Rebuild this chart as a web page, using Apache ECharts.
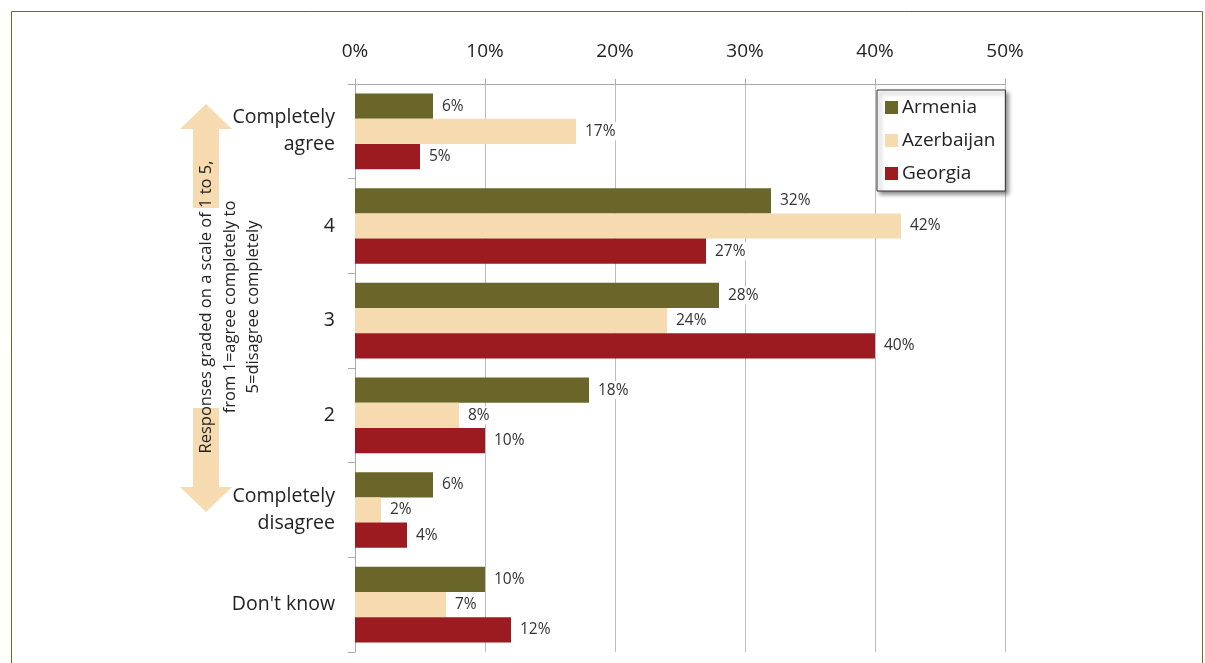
<!DOCTYPE html>
<html>
<head>
<meta charset="utf-8">
<script src="https://cdn.jsdelivr.net/npm/echarts@6/dist/echarts.min.js"></script>
<style>
html,body{margin:0;padding:0;background:#fff;}
#chart{width:1205px;height:663px;}
</style>
</head>
<body>
<div id="chart"></div>
<script>
var categories = ['Completely\nagree', '4', '3', '2', 'Completely\ndisagree', "Don't know"];
var armenia = [6, 32, 28, 18, 6, 10];
var azerbaijan = [17, 42, 24, 8, 2, 7];
var georgia = [5, 27, 40, 10, 4, 12];
var xTicks = [0, 10, 20, 30, 40, 50];
var seriesNames = ['Armenia', 'Azerbaijan', 'Georgia'];
var colors = ['#6a6629', '#f5dbaf', '#9b1b20'];
var axisTitleLines = ['Responses graded on a scale of 1 to 5,', 'from 1=agree completely to', '5=disagree completely'];

var FONT = '"Open Sans", "Noto Sans", sans-serif';
var chart = echarts.init(document.getElementById('chart'), null, {renderer: 'canvas'});

function mkSeries(name, data, idx) {
  return {
    name: name,
    type: 'bar',
    data: data,
    barGap: '0%',
    barCategoryGap: '20%',
    itemStyle: {color: colors[idx]},
    label: {
      show: true,
      position: 'right',
      distance: 6,
      formatter: '{c}%',
      color: '#333',
      fontFamily: FONT,
      fontSize: 15.5,
      backgroundColor: '#fff',
      padding: [1, 2, 1, 3]
    },
    z: 3
  };
}

var option = {
  backgroundColor: '#fff',
  animation: false,
  textStyle: {fontFamily: FONT},
  grid: {left: 355, right: 200, top: 84, bottom: 11, containLabel: false},
  legend: {
    orient: 'vertical',
    left: 877,
    top: 90,
    data: seriesNames,
    icon: 'rect',
    itemWidth: 13,
    itemHeight: 13,
    itemGap: 14,
    padding: [8, 10, 8, 8],
    borderColor: '#333',
    borderWidth: 1,
    backgroundColor: '#fff',
    shadowColor: 'rgba(0,0,0,0.45)',
    shadowBlur: 4,
    shadowOffsetX: 3,
    shadowOffsetY: 3,
    textStyle: {fontFamily: FONT, fontSize: 19, color: '#222', padding: [0, 0, 0, -1]}
  },
  xAxis: {
    type: 'value',
    position: 'top',
    min: xTicks[0],
    max: xTicks[xTicks.length - 1],
    interval: 10,
    axisLine: {show: true, lineStyle: {color: '#aaa', width: 1}},
    axisTick: {show: true, length: 5, lineStyle: {color: '#aaa'}},
    splitLine: {show: true, lineStyle: {color: '#bdbdbd', width: 1}},
    axisLabel: {
      formatter: '{value}%',
      fontFamily: FONT,
      fontSize: 19,
      color: '#222',
      margin: 23
    }
  },
  yAxis: {
    type: 'category',
    inverse: true,
    data: categories,
    axisLine: {show: true, lineStyle: {color: '#aaa', width: 1}},
    axisTick: {show: true, length: 7, lineStyle: {color: '#aaa'}},
    axisLabel: {
      fontFamily: FONT,
      fontSize: 19.5,
      color: '#222',
      margin: 20,
      lineHeight: 27,
      align: 'right'
    }
  },
  series: [
    mkSeries(seriesNames[0], armenia, 0),
    mkSeries(seriesNames[1], azerbaijan, 1),
    mkSeries(seriesNames[2], georgia, 2)
  ],
  graphic: [
    {
      type: 'rect',
      shape: {x: 11.5, y: 11.5, width: 1191, height: 700},
      style: {fill: 'none', stroke: '#6f6b22', lineWidth: 1},
      silent: true
    },
    {
      type: 'polygon',
      shape: {
        points: [
          [206, 104], [232, 129], [219, 129], [219, 487], [232, 487],
          [206, 512], [180, 487], [193, 487], [193, 129], [180, 129]
        ]
      },
      style: {fill: '#f5dbaf'},
      silent: true
    },
    {
      type: 'rect',
      shape: {x: 190, y: 208, width: 36, height: 200},
      style: {fill: '#fff'},
      silent: true
    },
    {
      type: 'text',
      x: 230,
      y: 307,
      rotation: Math.PI / 2,
      style: {
        text: axisTitleLines.join('\n'),
        fontFamily: FONT,
        fontSize: 16.5,
        lineHeight: 23.5,
        fill: '#222',
        align: 'center',
        verticalAlign: 'middle'
      },
      silent: true
    }
  ]
};
chart.setOption(option);
</script>
</body>
</html>
